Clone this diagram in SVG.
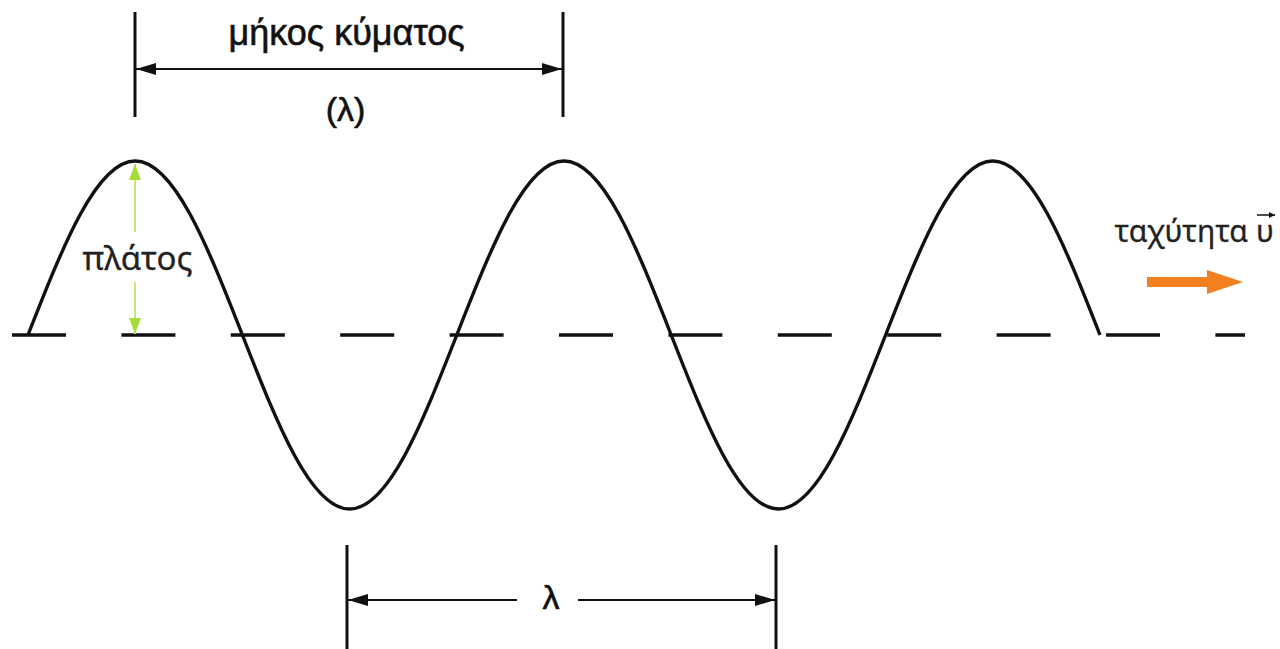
<svg xmlns="http://www.w3.org/2000/svg" width="1280" height="649" viewBox="0 0 1280 649">
  <style>
    .ink { stroke: #111; fill: none; }
    .tick { stroke: #111; stroke-width: 3; }
    .dim { stroke: #111; stroke-width: 2; fill: none; }
    .lbl { font-family: "Liberation Sans", Arial, sans-serif; fill: #111; stroke: #111; stroke-width: 0.6; }
    .hum { font-family: "Noto Sans", "Open Sans", sans-serif; fill: #222; stroke: #222; stroke-width: 0.3; }
    .amp { stroke: #c4e87a; stroke-width: 2; fill: none; }
  </style>
  <defs>
    <marker id="arr" viewBox="0 0 20 12" refX="20" refY="6" markerWidth="20" markerHeight="12" markerUnits="userSpaceOnUse" orient="auto-start-reverse">
      <path d="M0 0 L20 6 L0 12 z" fill="#111"/>
    </marker>
    <marker id="garr" viewBox="0 0 16 12" refX="16" refY="6" markerWidth="16" markerHeight="12" markerUnits="userSpaceOnUse" orient="auto-start-reverse">
      <path d="M0 0 L16 6 L0 12 z" fill="#a6dc3a"/>
    </marker>
    <marker id="varr" viewBox="0 0 6 6" refX="6" refY="3" markerWidth="6" markerHeight="6" markerUnits="userSpaceOnUse" orient="auto">
      <path d="M0 0 L6 3 L0 6 z" fill="#111"/>
    </marker>
  </defs>
  <rect width="1280" height="649" fill="#ffffff"/>

  <g id="baseline">
    <line x1="12" y1="335" x2="1245" y2="335" class="ink" stroke-width="3.4" stroke-dasharray="54 55.4"/>
  </g>

  <g id="wave">
    <path class="ink" stroke-width="3.4" d="M 28 335 C 63 245.8, 96.4 161, 135.2 161 S 207.4 245.8, 242.4 335 S 310.8 509, 349.6 509 S 421.8 424.2, 456.8 335 S 525.2 161, 564 161 S 636.2 245.8, 671.2 335 S 739.6 509, 778.4 509 S 850.6 424.2, 885.6 335 S 954 161, 992.8 161 S 1065 245.8, 1100 335"/>
  </g>

  <g id="connectors">
    <g id="top-dimension">
      <line class="tick" x1="135" y1="12" x2="135" y2="117"/>
      <line class="tick" x1="563" y1="12" x2="563" y2="117"/>
      <line class="dim" x1="136" y1="69" x2="562" y2="69" marker-start="url(#arr)" marker-end="url(#arr)"/>
    </g>
    <g id="amplitude-arrow">
      <line class="amp" x1="135" y1="232" x2="135" y2="164" marker-end="url(#garr)"/>
      <line class="amp" x1="135" y1="282" x2="135" y2="334" marker-end="url(#garr)"/>
    </g>
    <g id="bottom-dimension">
      <line class="tick" x1="347" y1="545" x2="347" y2="649"/>
      <line class="tick" x1="776" y1="545" x2="776" y2="649"/>
      <line class="dim" x1="517" y1="600" x2="348" y2="600" marker-end="url(#arr)"/>
      <line class="dim" x1="578" y1="600" x2="775" y2="600" marker-end="url(#arr)"/>
    </g>
    <g id="velocity-arrow">
      <polygon points="1147,277 1207,277 1207,270 1243,282 1207,294 1207,287 1147,287" fill="#f38020"/>
    </g>
  </g>

  <g id="label-wavelength">
    <text class="lbl" x="346.5" y="45" font-size="36" text-anchor="middle">μήκος κύματος</text>
    <text class="lbl" x="345.5" y="121" font-size="34" text-anchor="middle">(λ)</text>
  </g>

  <g id="label-amplitude">
    <text class="hum" x="137.5" y="270" font-size="33" text-anchor="middle">πλάτος</text>
  </g>

  <g id="label-velocity">
    <text class="hum" x="1248" y="242" font-size="30" text-anchor="end">ταχύτητα</text>
    <text class="hum" x="1256" y="242" font-size="30">υ</text>
    <line x1="1257" y1="215" x2="1275" y2="215" stroke="#111" stroke-width="1.5" marker-end="url(#varr)"/>
  </g>

  <g id="label-lambda">
    <text class="lbl" x="551" y="609" font-size="34" text-anchor="middle">λ</text>
  </g>
</svg>
